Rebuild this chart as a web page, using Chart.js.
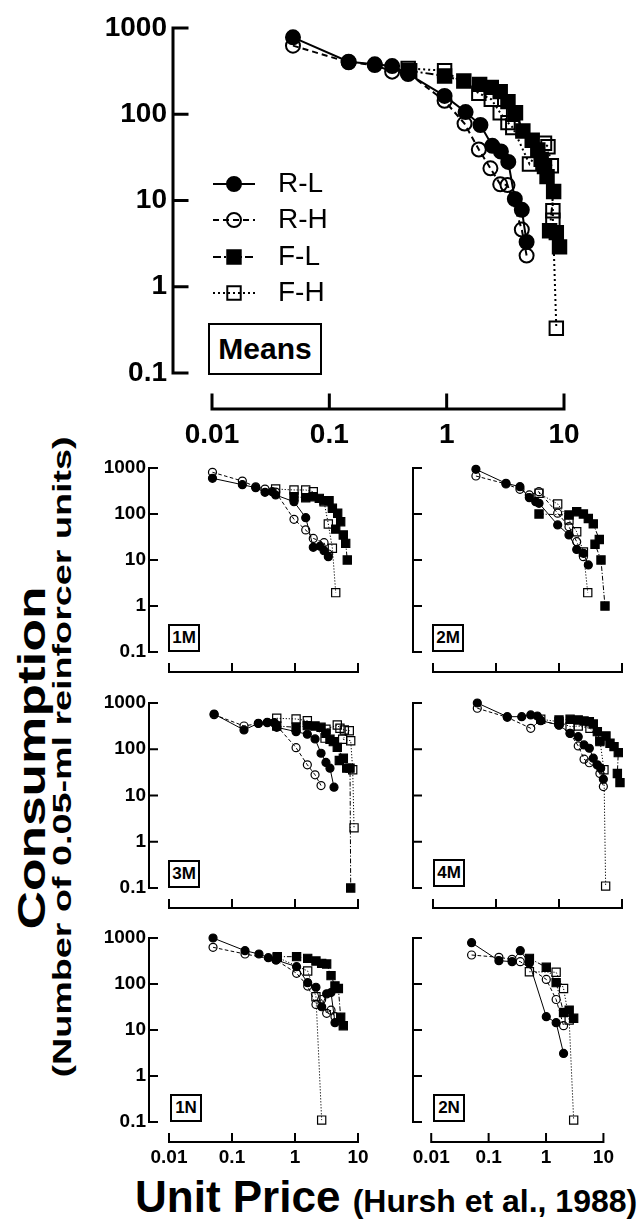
<!DOCTYPE html>
<html>
<head>
<meta charset="utf-8">
<script src="https://cdn.jsdelivr.net/npm/chart.js@4.4.1/dist/chart.umd.min.js"></script>
<style>
body { margin: 0; background: #fff; }
#page { position: relative; width: 638px; height: 1219px; overflow: hidden; font-family: "Liberation Sans", Arial, Helvetica, sans-serif; color: #000; }
#page canvas { position: absolute; left: 0; top: 0; }
.vt { position: absolute; width: 0; height: 0; }
.vt div { position: absolute; left: 0; top: 0; white-space: nowrap; font-weight: bold; transform-origin: 50% 50%; }
.tag { position: absolute; box-sizing: border-box; border: 2px solid #000; font-weight: bold; text-align: center; background: #fff; }
#xtitle { position: absolute; left: 135px; top: 1175px; font-weight: bold; font-size: 44px; line-height: 44px; white-space: nowrap; }
#xtitle span { font-size: 32px; }
</style>
</head>
<body>
<div id="page">
  <div class="vt" style="left:32px;top:758px"><div id="yt1" style="font-size:38px">Consumption</div></div>
  <div class="vt" style="left:62px;top:757px"><div id="yt2" style="font-size:26px">(Number of 0.05-ml reinforcer units)</div></div>
  <div id="xtitle">Unit Price <span>(Hursh et al., 1988)</span></div>
</div>
<script>
// series + axis values
const seriesNames = ['R-L', 'R-H', 'F-L', 'F-H'];
const panelLabels = ['Means', '1M', '2M', '3M', '4M', '1N', '2N'];
const xTickValues = [0.01, 0.1, 1, 10];
const xTickLabels = ['0.01', '0.1', '1', '10'];
const yTickValues = [0.1, 1, 10, 100, 1000];
const yTickLabels = ['0.1', '1', '10', '100', '1000'];

// Means
const meansRLPrice = [0.049, 0.146, 0.244, 0.343, 0.469, 0.96, 1.45, 1.94, 2.45, 2.9, 3.35, 3.81, 4.37, 4.8];
const meansRLCons = [780, 406, 379, 362, 293, 163, 106, 75, 43, 37, 28, 10.4, 7.8, 3.3];
const meansRHPrice = [0.049, 0.146, 0.244, 0.343, 0.469, 0.96, 1.42, 1.88, 2.36, 2.86, 3.3, 4.37, 4.8];
const meansRHCons = [624, 400, 372, 312, 300, 143, 78, 39, 23.6, 15.4, 15.1, 4.6, 2.3];
const meansFLPrice = [0.484, 0.96, 1.4, 1.91, 2.4, 2.86, 3.33, 3.86, 4.46, 5.36, 5.98, 6.39, 6.82, 7.17, 8.16, 7.54, 8.6, 9.16];
const meansFLCons = [320, 277, 243, 222, 205, 183, 140, 104, 64, 50, 38.5, 30, 24.7, 18.9, 12.7, 4.47, 4.24, 2.9];
const meansFHPrice = [0.47, 0.96, 1.88, 2.4, 2.86, 3.33, 3.66, 5.08, 6.82, 7.3, 7.8, 8.04, 8.04, 8.6];
const meansFHCons = [340, 320, 175, 149, 104, 80, 70, 26.5, 46, 42, 25.3, 7.6, 5.9, 0.33];

// 1M
const m1RLPrice = [0.049, 0.146, 0.238, 0.334, 0.436, 0.493, 0.964, 1.48, 1.95, 2.5, 2.89, 3.38];
const m1RLCons = [597, 434, 373, 296, 305, 259, 185, 83, 18.9, 20, 15.9, 11.8];
const m1RHPrice = [0.049, 0.146, 0.238, 0.334, 0.493, 0.964, 1.48, 1.95, 2.89, 3.38];
const m1RHCons = [806, 521, 390, 349, 300, 76.5, 45, 29.5, 23.8, 13.5];
const m1FLPrice = [0.964, 1.48, 1.95, 2.43, 2.89, 3.47, 3.92, 4.76, 5.31, 4.43, 5.84, 6.38, 6.76];
const m1FLCons = [238, 226, 238, 219, 195, 195, 133, 104, 68, 47, 35, 23, 10];
const m1FHPrice = [0.493, 0.964, 1.48, 1.95, 2.89, 3.38, 3.92, 4.43];
const m1FHCons = [349, 333, 333, 305, 185, 60.7, 18, 1.95];

// 2M
const m2RLPrice = [0.048, 0.144, 0.24, 0.338, 0.427, 0.482, 0.953, 1.44, 1.91, 2.44, 2.92];
const m2RLCons = [935, 465, 393, 227, 185, 171, 58, 35, 17, 14, 7.8];
const m2RHPrice = [0.048, 0.144, 0.24, 0.338, 0.48, 0.953, 1.44, 1.91, 2.44];
const m2RHCons = [670, 450, 344, 260, 305, 104, 53, 25, 11.8];
const m2FLPrice = [0.482, 1.44, 1.91, 2.44, 2.92, 3.5, 4.36, 3.73, 4.64, 5.37];
const m2FLCons = [100, 95, 112, 100, 80, 61, 28, 22, 10, 1];
const m2FHPrice = [0.482, 0.953, 1.44, 1.91, 2.44, 2.86];
const m2FHCons = [282, 165, 74, 41, 15, 1.95];

// 3M
const m3RLPrice = [0.052, 0.155, 0.262, 0.363, 0.469, 0.513, 1.04, 1.57, 2.08, 2.59, 3.1, 3.59, 4.16];
const m3RLCons = [578, 261, 364, 383, 376, 298, 240, 211, 167, 82, 52, 39, 15.1];
const m3RHPrice = [0.052, 0.155, 0.262, 0.363, 0.469, 1.04, 1.57, 2.08, 2.59];
const m3RHCons = [560, 318, 360, 375, 370, 108, 46, 28, 16.4];
const m3FLPrice = [0.513, 1.04, 1.57, 2.08, 2.59, 3.1, 3.59, 4.06, 4.69, 5.85, 5.05, 6.62, 7.47, 7.66];
const m3FLCons = [318, 298, 324, 318, 298, 222, 164, 146, 110, 64, 57, 39, 39, 0.1];
const m3FHPrice = [0.513, 1.04, 1.57, 3.0, 3.1, 4.69, 5.17, 6.07, 7.27, 5.71, 7.66, 8.24, 8.65];
const m3FHCons = [467, 451, 415, 174, 270, 335, 284, 261, 252, 164, 153, 36, 2.0];

// 4M
const m4RLPrice = [0.0505, 0.151, 0.256, 0.356, 0.453, 0.513, 1.0, 1.5, 2.02, 2.5, 3.03, 3.5, 4.06, 4.59, 5.06];
const m4RLCons = [1000, 506, 506, 551, 523, 415, 335, 222, 187, 124, 105, 64, 46, 39, 22.5];
const m4RHPrice = [0.0505, 0.151, 0.356, 0.513, 1.0, 1.5, 2.02, 2.5, 3.03, 4.46, 5.06];
const m4RHCons = [770, 490, 284, 420, 330, 220, 118, 61, 51, 30, 15.6];
const m4FLPrice = [1.0, 1.5, 2.02, 2.5, 3.03, 3.5, 4.06, 4.46, 5.57, 6.45, 7.47, 8.73, 8.44, 9.29];
const m4FLCons = [430, 444, 430, 408, 394, 351, 240, 146, 194, 135, 114, 84.5, 30, 19];
const m4FHPrice = [0.513, 1.0, 1.5, 2.02, 3.1, 4.46, 5.17, 5.5];
const m4FHCons = [445, 394, 308, 318, 284, 158, 36, 0.11];

// 1N
const n1RLPrice = [0.05, 0.161, 0.268, 0.377, 0.5, 1.06, 1.59, 2.15, 2.65, 3.18, 3.73, 4.31];
const n1RLCons = [1000, 530, 449, 373, 333, 238, 107, 85, 32, 61, 65, 14.4];
const n1RHPrice = [0.05, 0.161, 0.5, 1.06, 1.59, 2.15, 2.65, 3.18, 3.73, 4.31];
const n1RHCons = [627, 449, 333, 171, 90, 36, 46, 23, 27, 19.5];
const n1FLPrice = [0.523, 1.06, 1.59, 2.15, 2.65, 3.18, 3.73, 4.31, 4.88, 5.31, 5.84];
const n1FLCons = [393, 393, 361, 316, 281, 272, 152, 91, 80, 18.9, 12.4];
const n1FHPrice = [0.523, 1.59, 2.15, 2.65];
const n1FHCons = [380, 192, 53, 0.11];

// 2N
const n2RLPrice = [0.0505, 0.151, 0.256, 0.356, 0.513, 1.01, 1.5, 2.02];
const n2RLCons = [790, 321, 306, 530, 282, 19.5, 14.4, 3.1];
const n2RHPrice = [0.0505, 0.151, 0.256, 0.356, 1.01, 1.5, 2.02];
const n2RHCons = [427, 380, 344, 306, 126, 46, 12.4];
const n2FLPrice = [0.513, 1.01, 1.5, 2.02, 2.53, 3.03];
const n2FLCons = [361, 231, 107, 24, 27, 18];
const n2FHPrice = [0.513, 1.5, 2.02, 2.53, 3.03];
const n2FHCons = [185, 180, 80, 16.5, 0.11];

const panelSeries = [
  [[meansRLPrice, meansRLCons], [meansRHPrice, meansRHCons], [meansFLPrice, meansFLCons], [meansFHPrice, meansFHCons]],
  [[m1RLPrice, m1RLCons], [m1RHPrice, m1RHCons], [m1FLPrice, m1FLCons], [m1FHPrice, m1FHCons]],
  [[m2RLPrice, m2RLCons], [m2RHPrice, m2RHCons], [m2FLPrice, m2FLCons], [m2FHPrice, m2FHCons]],
  [[m3RLPrice, m3RLCons], [m3RHPrice, m3RHCons], [m3FLPrice, m3FLCons], [m3FHPrice, m3FHCons]],
  [[m4RLPrice, m4RLCons], [m4RHPrice, m4RHCons], [m4FLPrice, m4FLCons], [m4FHPrice, m4FHCons]],
  [[n1RLPrice, n1RLCons], [n1RHPrice, n1RHCons], [n1FLPrice, n1FLCons], [n1FHPrice, n1FHCons]],
  [[n2RLPrice, n2RLCons], [n2RHPrice, n2RHCons], [n2FLPrice, n2FLCons], [n2FHPrice, n2FHCons]]
];

// layout of each panel on the page (pixels)
const W = 638, H = 1219;
const layouts = [
  { axisX: 173, x0: 212, x1: 564, yTop: 28, yBot: 373, xAxisY: 409, showY: true, showX: true, big: true, tag: [208, 323, 114, 52] },
  { axisX: 149, x0: 169, x1: 358, yTop: 468, yBot: 652, xAxisY: 672, showY: true, showX: false, tag: [168, 624, 32, 28] },
  { axisX: 413, x0: 433, x1: 622, yTop: 468, yBot: 652, xAxisY: 672, showY: false, showX: false, tag: [432, 624, 32, 28] },
  { axisX: 149, x0: 169, x1: 358, yTop: 703, yBot: 888, xAxisY: 908, showY: true, showX: false, tag: [168, 860, 32, 28] },
  { axisX: 413, x0: 433, x1: 622, yTop: 703, yBot: 888, xAxisY: 908, showY: false, showX: false, tag: [433, 859, 32, 28] },
  { axisX: 149, x0: 169, x1: 358, yTop: 938, yBot: 1122, xAxisY: 1142, showY: true, showX: true, tag: [170, 1094, 32, 28] },
  { axisX: 413, x0: 433, x1: 622, yTop: 938, yBot: 1122, xAxisY: 1142, showY: false, showX: true, tag: [433, 1094, 32, 28] }
];

Chart.defaults.font.family = '"Liberation Sans", Arial, Helvetica, sans-serif';
Chart.defaults.color = '#000';

const seriesLook = [
  { style: 'circle', filled: true, dash: [] },
  { style: 'circle', filled: false, dash: [6, 4] },
  { style: 'rect', filled: true, dash: [8, 3, 2, 3] },
  { style: 'rect', filled: false, dash: [2, 3] }
];

// offset axes with inward ticks, Prism style
const framePlugin = {
  id: 'frame',
  beforeDatasetsDraw(chart, args, opts) {
    const ctx = chart.ctx, x = chart.scales.x, y = chart.scales.y;
    const ax = chart.chartArea.left, ay = opts.xAxisY;
    ctx.save();
    ctx.strokeStyle = '#000';
    ctx.lineWidth = opts.width;
    ctx.lineCap = 'square';
    ctx.beginPath();
    ctx.moveTo(ax, y.getPixelForValue(yTickValues[0]));
    ctx.lineTo(ax, y.getPixelForValue(yTickValues[yTickValues.length - 1]));
    yTickValues.forEach(v => {
      const p = y.getPixelForValue(v);
      ctx.moveTo(ax, p);
      ctx.lineTo(ax + opts.tick, p);
    });
    ctx.moveTo(x.getPixelForValue(xTickValues[0]), ay);
    ctx.lineTo(x.getPixelForValue(xTickValues[xTickValues.length - 1]), ay);
    xTickValues.forEach(v => {
      const p = x.getPixelForValue(v);
      ctx.moveTo(p, ay);
      ctx.lineTo(p, ay - opts.tick);
    });
    ctx.stroke();
    ctx.restore();
  }
};

const legendPlugin = {
  id: 'sideLegend',
  afterDatasetsDraw(chart, args, opts) {
    if (!opts || !opts.rows) return;
    const ctx = chart.ctx;
    chart.data.datasets.forEach((ds, i) => {
      const y = opts.rows[i];
      ctx.save();
      ctx.strokeStyle = '#000';
      ctx.lineWidth = ds.borderWidth;
      ctx.setLineDash(ds.borderDash);
      ctx.beginPath();
      ctx.moveTo(opts.lineFrom, y);
      ctx.lineTo(opts.lineTo, y);
      ctx.stroke();
      ctx.setLineDash([]);
      ctx.fillStyle = ds.pointBackgroundColor;
      ctx.lineWidth = ds.pointBorderWidth;
      Chart.helpers.drawPoint(ctx, { pointStyle: ds.pointStyle, radius: ds.pointRadius, rotation: 0, borderWidth: ds.pointBorderWidth }, opts.marker, y);
      ctx.fillStyle = '#000';
      ctx.font = opts.font;
      ctx.textBaseline = 'middle';
      ctx.textAlign = 'left';
      ctx.fillText(ds.label, opts.textX, y);
      ctx.restore();
    });
  }
};

function makeDataset(pair, i, big) {
  const look = seriesLook[i];
  const k = big ? 1 : 0.6;
  return {
    label: seriesNames[i],
    data: pair[0].map((p, j) => ({ x: p, y: pair[1][j] })),
    showLine: true,
    tension: 0,
    fill: false,
    clip: false,
    borderColor: '#000',
    borderWidth: big ? 2 : 1,
    borderDash: look.dash.map(d => d * k),
    pointStyle: look.style,
    pointRadius: look.style === 'circle' ? (big ? 7 : 4) : (big ? 9.5 : 5.8),
    pointBorderWidth: big ? 2 : 1.2,
    pointBorderColor: '#000',
    pointBackgroundColor: look.filled ? '#000' : 'rgba(0,0,0,0)'
  };
}

const page = document.getElementById('page');

layouts.forEach((L, n) => {
  const canvas = document.createElement('canvas');
  canvas.width = W;
  canvas.height = H;
  page.appendChild(canvas);

  const tag = document.createElement('div');
  tag.className = 'tag';
  tag.textContent = panelLabels[n];
  tag.style.left = L.tag[0] + 'px';
  tag.style.top = L.tag[1] + 'px';
  tag.style.width = L.tag[2] + 'px';
  tag.style.height = L.tag[3] + 'px';
  tag.style.fontSize = (L.big ? 30 : 17) + 'px';
  tag.style.lineHeight = (L.tag[3] - 4) + 'px';
  page.appendChild(tag);

  const dec = (L.x1 - L.x0) / 3;
  const yW = 100, xH = 100;
  const fs = L.big ? 28 : 19;

  new Chart(canvas, {
    type: 'line',
    data: { datasets: panelSeries[n].map((pair, i) => makeDataset(pair, i, L.big)) },
    options: {
      responsive: false,
      animation: false,
      events: [],
      devicePixelRatio: 1,
      layout: { padding: { left: L.axisX - yW, top: L.yTop, right: W - L.x1, bottom: H - L.yBot - xH } },
      scales: {
        x: {
          type: 'logarithmic',
          min: Math.pow(10, -2 - (L.x0 - L.axisX) / dec),
          max: 10,
          afterBuildTicks: s => { s.ticks = xTickValues.map(v => ({ value: v })); },
          afterFit: s => { s.height = xH; },
          grid: { display: false, drawTicks: false },
          border: { display: false },
          ticks: {
            display: L.showX, autoSkip: false, maxRotation: 0,
            padding: L.big ? 45 : 24,
            font: { size: fs, weight: 'bold' },
            color: '#000',
            callback: (v, i) => xTickLabels[i]
          }
        },
        y: {
          type: 'logarithmic',
          min: yTickValues[0],
          max: yTickValues[yTickValues.length - 1],
          afterBuildTicks: s => { s.ticks = yTickValues.map(v => ({ value: v })); },
          afterFit: s => { s.width = yW; },
          grid: { display: false, drawTicks: false },
          border: { display: false },
          ticks: {
            display: L.showY, autoSkip: false,
            padding: L.big ? 6 : 3,
            font: { size: fs, weight: 'bold' },
            color: '#000',
            callback: (v, i) => yTickLabels[i]
          }
        }
      },
      plugins: {
        legend: { display: false },
        tooltip: { enabled: false },
        frame: { xAxisY: L.xAxisY, width: L.big ? 3 : 2, tick: L.big ? 14 : 8 },
        sideLegend: L.big ? { rows: [184, 220, 257, 293], lineFrom: 213, lineTo: 255, marker: 234, textX: 278, font: '28px "Liberation Sans", Arial, sans-serif' } : false
      }
    },
    plugins: [framePlugin, legendPlugin]
  });
});

// vertical axis titles, centred and stretched along the text
['yt1', 'yt2'].forEach(id => {
  const el = document.getElementById(id);
  el.style.transform = 'translate(-50%, -50%) rotate(-90deg) scale(' + (id === 'yt1' ? 1.4 : 1.45) + ', 1)';
});
</script>
</body>
</html>
